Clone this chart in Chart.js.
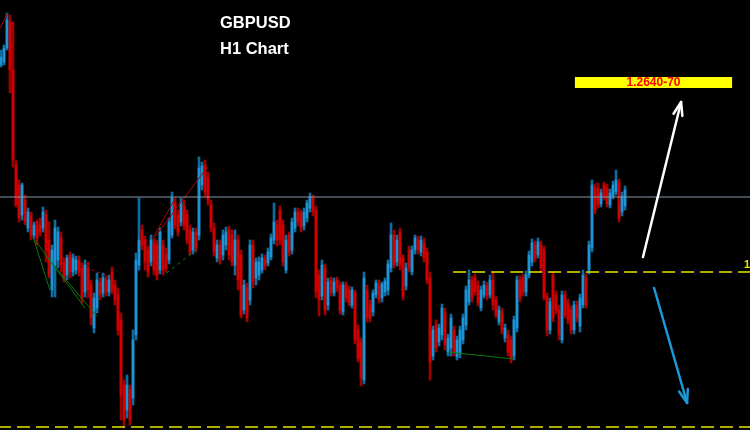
<!DOCTYPE html>
<html>
<head>
<meta charset="utf-8">
<title>GBPUSD H1</title>
<script src="https://cdn.jsdelivr.net/npm/chart.js@4.4.1/dist/chart.umd.min.js"></script>
<style>
html, body { margin: 0; padding: 0; background: #000; }
canvas { display: block; }
</style>
</head>
<body>
<canvas id="chart" width="750" height="430"></canvas>
<script>
// GBPUSD H1 candles (one candle every 3px)
var openPrices = [
    1.2635, 1.2638, 1.2652, 1.2678, 1.2630, 1.2535, 1.2515, 1.2485, 1.2500, 1.2472,
    1.2485, 1.2465, 1.2478, 1.2475, 1.2472, 1.2485, 1.2460, 1.2410, 1.2435, 1.2440,
    1.2462, 1.2438, 1.2425, 1.2445, 1.2428, 1.2430, 1.2440, 1.2432, 1.2408, 1.2432,
    1.2415, 1.2372, 1.2392, 1.2417, 1.2407, 1.2420, 1.2408, 1.2428, 1.2415, 1.2405,
    1.2380, 1.2315, 1.2290, 1.2310, 1.2302, 1.2365, 1.2435, 1.2470, 1.2460, 1.2450,
    1.2438, 1.2457, 1.2455, 1.2430, 1.2455, 1.2445, 1.2440, 1.2465, 1.2497, 1.2485,
    1.2478, 1.2495, 1.2485, 1.2470, 1.2450, 1.2468, 1.2465, 1.2515, 1.2535, 1.2522,
    1.2495, 1.2472, 1.2442, 1.2455, 1.2445, 1.2455, 1.2470, 1.2465, 1.2435, 1.2460,
    1.2445, 1.2390, 1.2412, 1.2400, 1.2455, 1.2422, 1.2425, 1.2430, 1.2442, 1.2437,
    1.2443, 1.2460, 1.2475, 1.2490, 1.2475, 1.2430, 1.2465, 1.2450, 1.2472, 1.2488,
    1.2487, 1.2474, 1.2482, 1.2492, 1.2502, 1.2490, 1.2425, 1.2404, 1.2432, 1.2395,
    1.2420, 1.2407, 1.2420, 1.2415, 1.2388, 1.2415, 1.2410, 1.2395, 1.2407, 1.2370,
    1.2358, 1.2320, 1.2410, 1.2395, 1.2388, 1.2405, 1.2416, 1.2402, 1.2408, 1.2410,
    1.2432, 1.2465, 1.2438, 1.2468, 1.2442, 1.2414, 1.2450, 1.2428, 1.2450, 1.2460,
    1.2448, 1.2457, 1.2448, 1.2422, 1.2344, 1.2375, 1.2358, 1.2365, 1.2387, 1.2348,
    1.2352, 1.2370, 1.2343, 1.2346, 1.2360, 1.2375, 1.2398, 1.2420, 1.2422, 1.2415,
    1.2392, 1.2405, 1.2414, 1.2405, 1.2420, 1.2400, 1.2378, 1.2388, 1.2362, 1.2365,
    1.2360, 1.2344, 1.2372, 1.2420, 1.2422, 1.2408, 1.2425, 1.2438, 1.2455, 1.2445,
    1.2455, 1.2450, 1.2403, 1.2370, 1.2425, 1.2405, 1.2390, 1.2360, 1.2405, 1.2397,
    1.2390, 1.2370, 1.2395, 1.2374, 1.2395, 1.2422, 1.2430, 1.2452, 1.2512, 1.2512,
    1.2496, 1.2515, 1.2512, 1.2495, 1.2504, 1.2508, 1.2517, 1.2488, 1.2494
];
var highPrices = [
    1.2650, 1.2655, 1.2687, 1.2685, 1.2678, 1.2540, 1.2520, 1.2517, 1.2505, 1.2492,
    1.2488, 1.2478, 1.2480, 1.2482, 1.2493, 1.2490, 1.2478, 1.2455, 1.2480, 1.2473,
    1.2468, 1.2442, 1.2445, 1.2448, 1.2446, 1.2444, 1.2444, 1.2437, 1.2440, 1.2438,
    1.2420, 1.2407, 1.2427, 1.2422, 1.2427, 1.2424, 1.2425, 1.2433, 1.2420, 1.2412,
    1.2387, 1.2320, 1.2325, 1.2315, 1.2370, 1.2447, 1.2502, 1.2475, 1.2464, 1.2454,
    1.2465, 1.2462, 1.2460, 1.2472, 1.2460, 1.2452, 1.2482, 1.2508, 1.2502, 1.2490,
    1.2502, 1.2500, 1.2490, 1.2475, 1.2472, 1.2472, 1.2543, 1.2538, 1.2540, 1.2528,
    1.2500, 1.2477, 1.2460, 1.2460, 1.2470, 1.2473, 1.2474, 1.2470, 1.2470, 1.2465,
    1.2450, 1.2420, 1.2417, 1.2460, 1.2460, 1.2442, 1.2443, 1.2446, 1.2445, 1.2452,
    1.2466, 1.2497, 1.2480, 1.2494, 1.2480, 1.2465, 1.2468, 1.2482, 1.2492, 1.2492,
    1.2490, 1.2492, 1.2500, 1.2507, 1.2505, 1.2494, 1.2430, 1.2440, 1.2436, 1.2422,
    1.2423, 1.2422, 1.2423, 1.2418, 1.2418, 1.2418, 1.2414, 1.2413, 1.2410, 1.2375,
    1.2362, 1.2428, 1.2415, 1.2400, 1.2410, 1.2420, 1.2420, 1.2418, 1.2422, 1.2440,
    1.2477, 1.2470, 1.2465, 1.2472, 1.2445, 1.2437, 1.2454, 1.2454, 1.2465, 1.2464,
    1.2464, 1.2462, 1.2452, 1.2428, 1.2374, 1.2380, 1.2376, 1.2396, 1.2392, 1.2366,
    1.2386, 1.2374, 1.2364, 1.2374, 1.2386, 1.2414, 1.2430, 1.2424, 1.2426, 1.2419,
    1.2414, 1.2419, 1.2418, 1.2425, 1.2427, 1.2404, 1.2394, 1.2392, 1.2376, 1.2370,
    1.2364, 1.2384, 1.2424, 1.2424, 1.2426, 1.2429, 1.2449, 1.2461, 1.2459, 1.2462,
    1.2459, 1.2454, 1.2407, 1.2402, 1.2428, 1.2409, 1.2395, 1.2409, 1.2409, 1.2401,
    1.2394, 1.2399, 1.2399, 1.2406, 1.2430, 1.2427, 1.2459, 1.2520, 1.2516, 1.2517,
    1.2511, 1.2518, 1.2516, 1.2511, 1.2519, 1.2530, 1.2521, 1.2508, 1.2514
];
var lowPrices = [
    1.2633, 1.2635, 1.2650, 1.2607, 1.2533, 1.2493, 1.2478, 1.2480, 1.2475, 1.2468,
    1.2460, 1.2462, 1.2455, 1.2464, 1.2468, 1.2438, 1.2422, 1.2403, 1.2403, 1.2432,
    1.2428, 1.2418, 1.2420, 1.2422, 1.2424, 1.2426, 1.2424, 1.2397, 1.2403, 1.2402,
    1.2375, 1.2367, 1.2387, 1.2400, 1.2403, 1.2404, 1.2404, 1.2406, 1.2395, 1.2365,
    1.2280, 1.2272, 1.2282, 1.2275, 1.2295, 1.2360, 1.2430, 1.2450, 1.2430, 1.2423,
    1.2434, 1.2425, 1.2420, 1.2426, 1.2425, 1.2428, 1.2436, 1.2462, 1.2471, 1.2464,
    1.2474, 1.2470, 1.2456, 1.2445, 1.2446, 1.2448, 1.2460, 1.2510, 1.2504, 1.2495,
    1.2468, 1.2444, 1.2438, 1.2436, 1.2440, 1.2450, 1.2440, 1.2434, 1.2425, 1.2410,
    1.2382, 1.2386, 1.2378, 1.2395, 1.2412, 1.2415, 1.2420, 1.2427, 1.2430, 1.2434,
    1.2440, 1.2456, 1.2454, 1.2455, 1.2434, 1.2427, 1.2444, 1.2446, 1.2468, 1.2474,
    1.2468, 1.2470, 1.2478, 1.2488, 1.2484, 1.2402, 1.2384, 1.2400, 1.2385, 1.2390,
    1.2404, 1.2404, 1.2408, 1.2386, 1.2385, 1.2398, 1.2394, 1.2392, 1.2356, 1.2338,
    1.2314, 1.2316, 1.2378, 1.2378, 1.2384, 1.2402, 1.2397, 1.2398, 1.2404, 1.2405,
    1.2428, 1.2432, 1.2434, 1.2430, 1.2400, 1.2410, 1.2428, 1.2425, 1.2446, 1.2446,
    1.2444, 1.2438, 1.2416, 1.2320, 1.2340, 1.2348, 1.2354, 1.2360, 1.2350, 1.2344,
    1.2344, 1.2344, 1.2340, 1.2342, 1.2356, 1.2370, 1.2395, 1.2398, 1.2405, 1.2394,
    1.2389, 1.2402, 1.2400, 1.2402, 1.2390, 1.2382, 1.2375, 1.2366, 1.2358, 1.2344,
    1.2337, 1.2340, 1.2368, 1.2398, 1.2404, 1.2404, 1.2422, 1.2434, 1.2438, 1.2442,
    1.2428, 1.2400, 1.2364, 1.2366, 1.2378, 1.2386, 1.2360, 1.2357, 1.2382, 1.2376,
    1.2366, 1.2366, 1.2378, 1.2368, 1.2392, 1.2392, 1.2426, 1.2448, 1.2486, 1.2492,
    1.2493, 1.2500, 1.2493, 1.2492, 1.2501, 1.2505, 1.2478, 1.2484, 1.2490
];
var closePrices = [
    1.2643, 1.2652, 1.2680, 1.2630, 1.2540, 1.2495, 1.2482, 1.2515, 1.2478, 1.2488,
    1.2465, 1.2475, 1.2462, 1.2468, 1.2488, 1.2450, 1.2425, 1.2450, 1.2472, 1.2468,
    1.2435, 1.2422, 1.2442, 1.2428, 1.2442, 1.2440, 1.2428, 1.2402, 1.2435, 1.2410,
    1.2382, 1.2402, 1.2420, 1.2405, 1.2422, 1.2408, 1.2420, 1.2410, 1.2400, 1.2370,
    1.2305, 1.2280, 1.2315, 1.2280, 1.2360, 1.2440, 1.2460, 1.2455, 1.2438, 1.2428,
    1.2460, 1.2430, 1.2425, 1.2468, 1.2430, 1.2432, 1.2478, 1.2502, 1.2475, 1.2468,
    1.2498, 1.2475, 1.2460, 1.2448, 1.2468, 1.2452, 1.2532, 1.2534, 1.2508, 1.2500,
    1.2472, 1.2448, 1.2455, 1.2440, 1.2465, 1.2468, 1.2445, 1.2438, 1.2460, 1.2420,
    1.2385, 1.2415, 1.2382, 1.2455, 1.2418, 1.2438, 1.2438, 1.2442, 1.2434, 1.2448,
    1.2462, 1.2478, 1.2460, 1.2460, 1.2438, 1.2460, 1.2448, 1.2478, 1.2488, 1.2478,
    1.2472, 1.2488, 1.2497, 1.2503, 1.2488, 1.2408, 1.2400, 1.2435, 1.2390, 1.2418,
    1.2408, 1.2418, 1.2412, 1.2390, 1.2415, 1.2402, 1.2397, 1.2410, 1.2360, 1.2342,
    1.2322, 1.2422, 1.2382, 1.2382, 1.2407, 1.2417, 1.2400, 1.2416, 1.2419, 1.2436,
    1.2465, 1.2435, 1.2460, 1.2435, 1.2404, 1.2432, 1.2432, 1.2450, 1.2462, 1.2450,
    1.2460, 1.2442, 1.2420, 1.2338, 1.2370, 1.2352, 1.2372, 1.2392, 1.2355, 1.2362,
    1.2382, 1.2348, 1.2360, 1.2370, 1.2382, 1.2410, 1.2420, 1.2402, 1.2408, 1.2397,
    1.2410, 1.2415, 1.2404, 1.2420, 1.2395, 1.2385, 1.2390, 1.2370, 1.2372, 1.2348,
    1.2342, 1.2380, 1.2420, 1.2402, 1.2408, 1.2425, 1.2445, 1.2457, 1.2442, 1.2458,
    1.2432, 1.2403, 1.2370, 1.2398, 1.2382, 1.2390, 1.2365, 1.2405, 1.2385, 1.2380,
    1.2370, 1.2395, 1.2382, 1.2402, 1.2425, 1.2395, 1.2455, 1.2515, 1.2490, 1.2495,
    1.2507, 1.2504, 1.2496, 1.2507, 1.2515, 1.2520, 1.2482, 1.2504, 1.2510
];

// levels and drawings (x = candle index, y = price)
var resistanceLevel = 1.2503;
var breakoutLevel = 1.2428;
var breakoutFrom = 150.7;
var supportLevel = 1.2273;
var greenLines = [
    [[10.8, 1.2462], [16.3, 1.2410]],
    [[10.8, 1.2462], [28.0, 1.2392]],
    [[15.2, 1.2443], [31.9, 1.2384]],
    [[149.1, 1.2348], [170.8, 1.2341]]
];
var greenDotted = [[55.2, 1.2427], [65.4, 1.2451]];
var redLines = [
    [[-0.3, 1.2672], [2.3, 1.2687]],
    [[50.8, 1.2463], [58.0, 1.2501]],
    [[51.3, 1.2463], [68.8, 1.2533]]
];
var redDotted = [[30.2, 1.2430], [36.3, 1.2424]];
var upArrow = [[214.0, 1.2443], [226.7, 1.2598]];
var downArrow = [[217.7, 1.2412], [228.7, 1.2297]];
var targetBox = [191.3, 243.7, 1.2623, 1.2612];
var targetText = '1.2640-70';
var titleLines = ['GBPUSD', 'H1 Chart'];

var UP = '#1c94d6', DOWN = '#d40000';
var UP_WICK = '#0f6c9e', DOWN_WICK = '#a00000';

function pts(list) {
    return list.map(function (p) { return { x: p[0], y: p[1] }; });
}

function lineSet(points, color, dash, width) {
    return {
        type: 'line',
        data: pts(points),
        borderColor: color,
        borderWidth: width || 1,
        borderDash: dash || [],
        pointRadius: 0,
        fill: false,
        tension: 0,
        order: 0
    };
}

function drawArrow(ctx, x1, y1, x2, y2, color) {
    var ang = Math.atan2(y2 - y1, x2 - x1);
    ctx.save();
    ctx.strokeStyle = color;
    ctx.lineWidth = 2.5;
    ctx.lineCap = 'round';
    ctx.lineJoin = 'round';
    ctx.beginPath();
    ctx.moveTo(x1, y1);
    ctx.lineTo(x2, y2);
    ctx.stroke();
    ctx.beginPath();
    ctx.moveTo(x2 - 14 * Math.cos(ang - 0.33), y2 - 14 * Math.sin(ang - 0.33));
    ctx.lineTo(x2, y2);
    ctx.lineTo(x2 - 14 * Math.cos(ang + 0.33), y2 - 14 * Math.sin(ang + 0.33));
    ctx.stroke();
    ctx.restore();
}

var overlay = {
    id: 'overlay',
    beforeDraw: function (chart) {
        var ctx = chart.ctx;
        ctx.save();
        ctx.fillStyle = '#000';
        ctx.fillRect(0, 0, chart.width, chart.height);
        ctx.restore();
    },
    afterDatasetsDraw: function (chart) {
        var ctx = chart.ctx, xs = chart.scales.x, ys = chart.scales.y;
        // target box
        var bx1 = xs.getPixelForValue(targetBox[0]), bx2 = xs.getPixelForValue(targetBox[1]);
        var by1 = ys.getPixelForValue(targetBox[2]), by2 = ys.getPixelForValue(targetBox[3]);
        ctx.save();
        ctx.fillStyle = '#ffff00';
        ctx.fillRect(bx1, by1, bx2 - bx1, by2 - by1);
        ctx.fillStyle = '#ff0000';
        ctx.font = 'bold 12px "Liberation Sans", Arial, sans-serif';
        ctx.textAlign = 'center';
        ctx.textBaseline = 'middle';
        ctx.fillText(targetText, (bx1 + bx2) / 2, (by1 + by2) / 2 + 0.5);
        // arrows
        drawArrow(ctx, xs.getPixelForValue(upArrow[0][0]), ys.getPixelForValue(upArrow[0][1]),
            xs.getPixelForValue(upArrow[1][0]), ys.getPixelForValue(upArrow[1][1]), '#ffffff');
        drawArrow(ctx, xs.getPixelForValue(downArrow[0][0]), ys.getPixelForValue(downArrow[0][1]),
            xs.getPixelForValue(downArrow[1][0]), ys.getPixelForValue(downArrow[1][1]), '#1a9ad8');
        // level label cut by the right edge
        ctx.fillStyle = '#e6e600';
        ctx.font = 'bold 11px "Liberation Sans", Arial, sans-serif';
        ctx.textAlign = 'left';
        ctx.fillText('1', 744, ys.getPixelForValue(breakoutLevel) - 7);
        // title
        ctx.fillStyle = '#ffffff';
        ctx.font = 'bold 16.5px "Liberation Sans", Arial, sans-serif';
        ctx.fillText(titleLines[0], 220, 23);
        ctx.fillText(titleLines[1], 220, 49);
        ctx.restore();
    }
};

var idx = openPrices.map(function (v, i) { return i; });
var isUp = idx.map(function (i) { return closePrices[i] >= openPrices[i]; });

var datasets = [
    lineSet([[-1, resistanceLevel], [251, resistanceLevel]], '#8798aa', null, 1),
    lineSet([[breakoutFrom, breakoutLevel], [251, breakoutLevel]], '#e6e600', [13, 6], 1.5),
    lineSet([[-1, supportLevel], [251, supportLevel]], '#e6e600', [13, 6], 1.5),
    lineSet(greenDotted, '#0a8a0a', [3, 4], 1),
    lineSet(redDotted, '#c00000', [3, 3], 1)
];
greenLines.forEach(function (l) { datasets.push(lineSet(l, '#0a7a0a', null, 1)); });
redLines.forEach(function (l) { datasets.push(lineSet(l, '#b00000', null, 1)); });

datasets.push({
    label: 'body',
    data: idx.map(function (i) { return { x: i, y: [openPrices[i], closePrices[i]] }; }),
    backgroundColor: isUp.map(function (u) { return u ? UP : DOWN; }),
    barThickness: 2,
    grouped: false,
    order: 1
});
datasets.push({
    label: 'wick',
    data: idx.map(function (i) { return { x: i, y: [lowPrices[i], highPrices[i]] }; }),
    backgroundColor: isUp.map(function (u) { return u ? UP_WICK : DOWN_WICK; }),
    barThickness: 2,
    grouped: false,
    order: 2
});

new Chart(document.getElementById('chart').getContext('2d'), {
    type: 'bar',
    data: { datasets: datasets },
    options: {
        responsive: false,
        devicePixelRatio: 1,
        animation: false,
        layout: { padding: 0 },
        plugins: { legend: { display: false }, tooltip: { enabled: false } },
        scales: {
            x: { type: 'linear', min: -1 / 3, max: 250 - 1 / 3, offset: false, display: false },
            y: { type: 'linear', min: 1.2270, max: 1.2700, display: false }
        }
    },
    plugins: [overlay]
});
</script>
</body>
</html>
